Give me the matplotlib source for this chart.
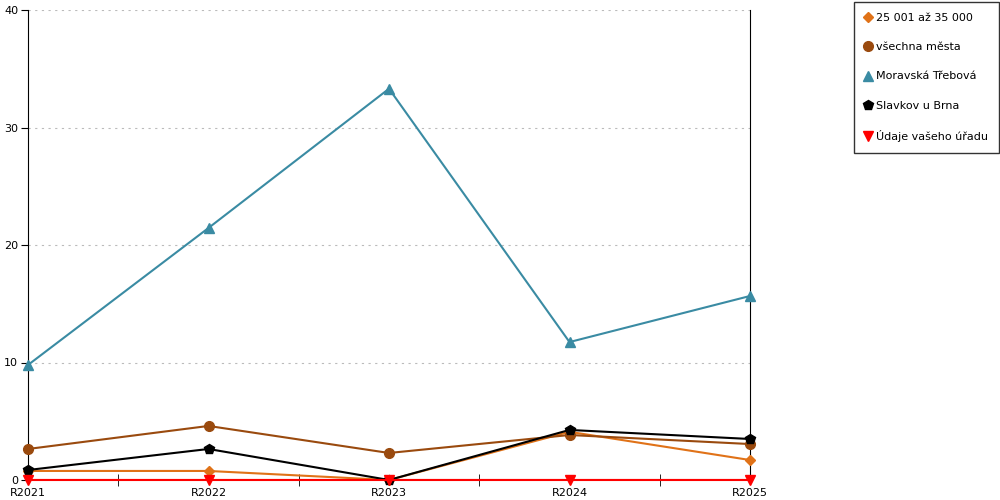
import matplotlib.pyplot as plt
from matplotlib.ticker import MultipleLocator

# Categories and series
years = ['R2021', 'R2022', 'R2023', 'R2024', 'R2025']
velikost = [0.77, 0.77, 0.0, 4.1, 1.7]
vsechna_mesta = [2.64, 4.6, 2.3, 3.83, 3.06]
moravska_trebova = [9.79, 21.45, 33.3, 11.74, 15.66]
slavkov = [0.85, 2.64, 0.0, 4.26, 3.49]
udaje_uradu = [0, 0, 0, 0, 0]

labels = ['25 001 až 35 000', 'všechna města', 'Moravská Třebová',
          'Slavkov u Brna', 'Údaje vašeho úřadu']
series = [velikost, vsechna_mesta, moravska_trebova, slavkov, udaje_uradu]
colors = ['#e07218', '#9a4a0e', '#3a8ba3', '#000000', '#ff0000']
markers = ['D', 'o', '^', 'p', 'v']
msizes = [5, 7, 7, 7, 7]

fig = plt.figure(figsize=(10, 5), dpi=100)
ax = fig.add_axes([0.028, 0.04, 0.722, 0.94])

x = list(range(len(years)))
for vals, lab, c, m, ms in zip(series, labels, colors, markers, msizes):
    ax.plot(x, vals, color=c, marker=m, markersize=ms, linewidth=1.5,
            label=lab, clip_on=False, zorder=3)

ax.set_xlim(0, len(years) - 1)
ax.set_ylim(0, 40)
ax.yaxis.set_major_locator(MultipleLocator(10))
ax.set_xticks(x)
ax.set_xticklabels(years)
ax.set_xticks([i + 0.5 for i in x[:-1]], minor=True)
ax.tick_params(axis='x', which='major', length=0, labelsize=8, pad=6)
ax.tick_params(axis='x', which='minor', length=8, direction='inout')
ax.tick_params(axis='y', labelsize=8, length=5, pad=2)
ax.grid(axis='y', linestyle=(0, (2, 4)), color='#bbbbbb', linewidth=0.8)

ax.spines['top'].set_visible(False)
ax.spines['bottom'].set_visible(False)
ax.spines['right'].set_color('black')
ax.axhline(0, color='#ff0000', linewidth=1.5, zorder=2)

leg = fig.legend(loc='upper left', bbox_to_anchor=(0.854, 0.996), frameon=True,
                 fancybox=False, edgecolor='black', fontsize=8,
                 handlelength=0.7, handletextpad=0.35, labelspacing=1.75,
                 borderpad=0.95, borderaxespad=0, numpoints=1)
leg.get_frame().set_linewidth(1.0)
for h in leg.legend_handles:
    h.set_linestyle('none')

plt.savefig('out.png', dpi=100)
